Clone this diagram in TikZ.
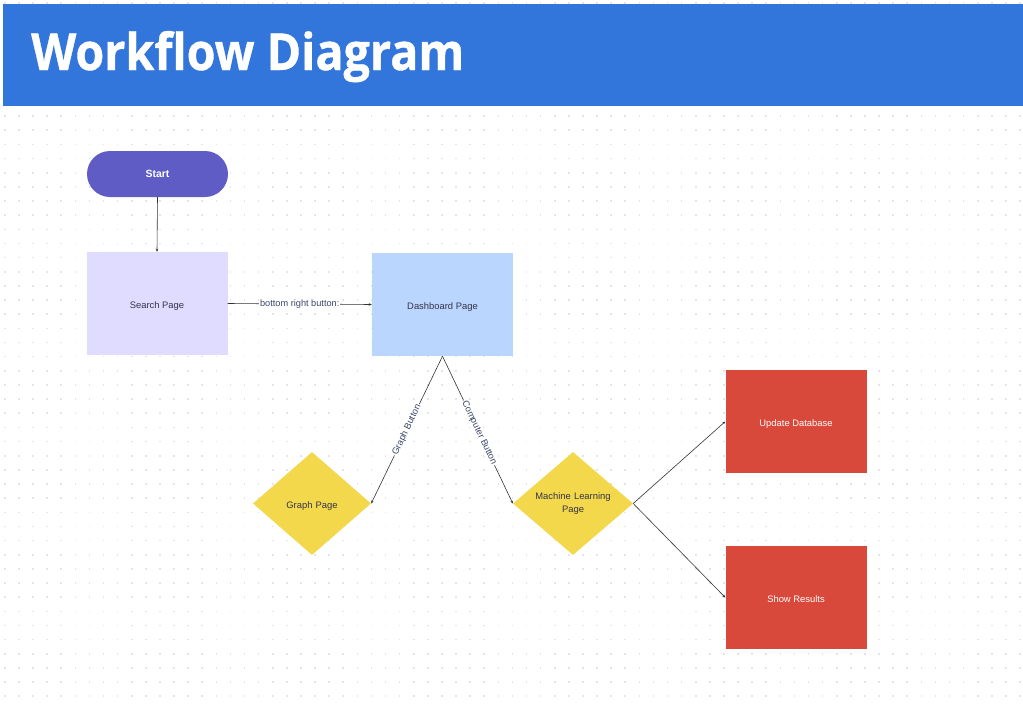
\documentclass[tikz,border=0pt]{standalone}
\usepackage{fontspec}
\setmainfont{Liberation Sans}
\newfontfamily\titlefont[BoldFeatures={FakeBold=0.8}]{Open Sans}
\usetikzlibrary{shapes.geometric,arrows.meta}
\definecolor{barblue}{HTML}{3276DB}
\definecolor{startpurple}{HTML}{5F5CC6}
\definecolor{searchlilac}{HTML}{E0DCFF}
\definecolor{dashblue}{HTML}{BBD6FE}
\definecolor{diayellow}{HTML}{F4D84B}
\definecolor{boxred}{HTML}{D9493B}
\definecolor{dotgray}{HTML}{E4E4E8}
\definecolor{txtdark}{HTML}{33334A}
\definecolor{lbldark}{HTML}{3A4766}
\tikzset{
  boxtext/.style={font=\fontsize{9.4}{11}\selectfont, text=txtdark, align=center, inner sep=0pt},
  pagebox/.style={boxtext, rectangle, minimum width=141pt, minimum height=103pt, text height=9pt, text depth=0pt},
  decision/.style={boxtext, diamond, minimum width=119pt, minimum height=103pt, aspect=1.15, fill=diayellow, text width=80pt},
  flow/.style={draw=black!80, line width=0.6pt, -{Stealth[length=3pt,width=2.5pt]}},
  edgelabel/.style={font=\fontsize{9.2}{10}\selectfont, text=lbldark, fill=white, inner sep=1pt},
}
\begin{document}
\begin{tikzpicture}[x=1pt,y=-1pt]
\useasboundingbox (0,0) rectangle (1023,707);
\fill[white] (0,0) rectangle (1023,707);
% dot grid
\foreach \i in {0,...,72}{
  \foreach \j in {0,...,49}{
    \fill[dotgray] (4.0+14.1*\i, 2.1+14.15*\j) rectangle +(1.6,1.6);
  }
}
% title bar
\fill[barblue] (3,4) rectangle (1023,106);
\node[anchor=base west, inner sep=0pt, text=white, font=\titlefont\bfseries\fontsize{51}{56}\selectfont] (title) at (31,70) {\scalebox{0.915}[1]{Workflow Diagram}};
% nodes
\node[rectangle, rounded corners=23pt, minimum width=141pt, minimum height=46pt, fill=startpurple, text=white, inner sep=0pt, font=\bfseries\fontsize{10.5}{12}\selectfont] (start) at (157.5,174) {Start};
\node[pagebox, fill=searchlilac] (search) at (157,303.5) {Search Page};
\node[pagebox, fill=dashblue] (dash) at (442.5,304.5) {Dashboard Page};
\node[decision, minimum width=118pt, text height=9pt, text depth=0pt] (graph) at (312,503.5) {Graph Page};
\node[decision, minimum width=120pt] (ml) at (573,503.5) {Machine Learning\\[2pt]Page};
\node[pagebox, fill=boxred, text=white] (update) at (796,421.5) {Update Database};
\node[pagebox, fill=boxred, text=white] (results) at (796,597.5) {Show Results};
% connectors
\draw[flow] (start.south) -- (search.north);
\draw[flow] (search.east) -- node[edgelabel, pos=0.5] {bottom right button:} (dash.west);
\draw[flow] (dash.south) -- node[edgelabel, sloped, pos=0.5] {Graph Button} (graph.east);
\draw[flow] (dash.south) -- node[edgelabel, sloped, pos=0.52] {Computer Button} (ml.west);
\draw[flow] (ml.east) -- (update.west);
\draw[flow] (ml.east) -- (results.west);
\end{tikzpicture}
\end{document}
